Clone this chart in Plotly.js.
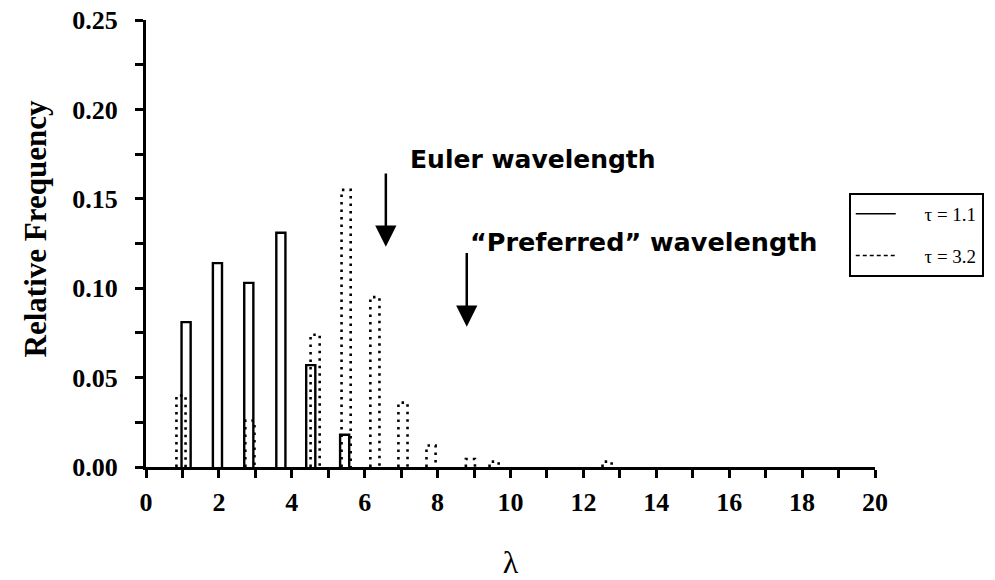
<!DOCTYPE html>
<html>
<head>
<meta charset="utf-8">
<script src="https://cdn.plot.ly/plotly-3.0.1.min.js"></script>
<style>html,body{margin:0;padding:0;background:#fff}#chart{width:995px;height:580px}</style>
</head>
<body>
<div id="chart"></div>
<script>
// Data
const lambdaTau11 = [1.10, 1.96, 2.82, 3.70, 4.52, 5.45];
const freqTau11   = [0.081, 0.114, 0.103, 0.131, 0.057, 0.018];
const lambdaTau32 = [0.96, 2.85, 4.64, 5.49, 6.28, 7.05, 7.82, 8.90, 9.55, 12.65];
const freqTau32   = [0.040, 0.026, 0.074, 0.155, 0.095, 0.036, 0.012, 0.0045, 0.003, 0.003];
const seriesNames = ['\u03c4 = 1.1', '\u03c4 = 3.2'];
const xTickVals = [0, 2, 4, 6, 8, 10, 12, 14, 16, 18, 20];
const yTickVals = [0, 0.05, 0.10, 0.15, 0.20, 0.25];

const BAR_W = 0.25;
function outline(centers, values) {
  const xs = [], ys = [];
  centers.forEach((c, i) => {
    const a = c - BAR_W / 2, b = c + BAR_W / 2;
    xs.push(a, a, b, b, null);
    ys.push(0, values[i], values[i], 0, null);
  });
  return {x: xs, y: ys};
}
const o1 = outline(lambdaTau11, freqTau11);
const o2 = outline(lambdaTau32, freqTau32);
const pad = '\u00a0\u00a0\u00a0\u00a0\u00a0';

const traces = [
  {type: 'scatter', mode: 'lines', x: o1.x, y: o1.y, showlegend: false,
   line: {color: '#000', width: 2.4}, connectgaps: false, hoverinfo: 'skip'},
  {type: 'scatter', mode: 'lines', x: o2.x, y: o2.y, showlegend: false,
   line: {color: '#000', width: 2.6, dash: '2.5px,5px'}, connectgaps: false, hoverinfo: 'skip'},
  {type: 'scatter', mode: 'lines', x: [null], y: [null], name: pad + seriesNames[0], legendgroup: 'a',
   line: {color: '#000', width: 1.5}},
  {type: 'scatter', mode: 'lines', x: [null], y: [null], name: pad + seriesNames[1], legendgroup: 'b',
   line: {color: '#000', width: 1.5, dash: '4px,3px'}}
];

const tickFont = {family: 'Liberation Serif', size: 26, weight: 'bold', color: '#000'};
const layout = {
  width: 995, height: 580,
  margin: {l: 146, r: 120, t: 20, b: 113, autoexpand: false},
  paper_bgcolor: '#fff', plot_bgcolor: '#fff',
  showlegend: true,
  legend: {x: 0.964, y: 0.613, xanchor: 'left', yanchor: 'top',
    bgcolor: '#fff', bordercolor: '#000', borderwidth: 2,
    font: {family: 'Liberation Serif', size: 19, color: '#000'},
    traceorder: 'grouped', tracegroupgap: 14, itemwidth: 40},
  xaxis: {range: [0, 20], tickvals: xTickVals, ticktext: xTickVals.map(String),
    showline: true, linecolor: '#000', linewidth: 3, mirror: false,
    ticks: 'outside', ticklen: 8, tickwidth: 3, tickcolor: '#000',
    minor: {dtick: 1, tick0: 0, ticks: 'outside', ticklen: 8, tickwidth: 3, tickcolor: '#000', showgrid: false},
    showgrid: false, zeroline: false, tickfont: tickFont, ticklabelstandoff: 2,
    title: {text: '\u03bb', font: {family: 'Liberation Serif', size: 32, color: '#000'}, standoff: 36},
    automargin: false},
  yaxis: {range: [0, 0.25], tickvals: yTickVals, ticktext: yTickVals.map(v => v.toFixed(2)),
    showline: true, linecolor: '#000', linewidth: 3,
    ticks: 'outside', ticklen: 8, tickwidth: 3, tickcolor: '#000',
    minor: {dtick: 0.025, tick0: 0, ticks: 'outside', ticklen: 8, tickwidth: 3, tickcolor: '#000', showgrid: false},
    showgrid: false, zeroline: false, tickfont: tickFont, ticklabelstandoff: 12,
    automargin: false},
  annotations: [
    {x: -0.152, y: 0.532, xref: 'paper', yref: 'paper', xanchor: 'center', yanchor: 'middle',
     textangle: -90, showarrow: false, text: 'Relative Frequency',
     font: {family: 'Liberation Serif', size: 31, weight: 'bold', color: '#000'}},
    {x: 6.58, y: 0.1232, ax: 6.58, ay: 0.165, xref: 'x', yref: 'y', axref: 'x', ayref: 'y',
     showarrow: true, arrowhead: 2, arrowsize: 1.7, arrowwidth: 2.5, arrowcolor: '#000', text: ''},
    {x: 8.80, y: 0.0785, ax: 8.80, ay: 0.1205, xref: 'x', yref: 'y', axref: 'x', ayref: 'y',
     showarrow: true, arrowhead: 2, arrowsize: 1.7, arrowwidth: 2.5, arrowcolor: '#000', text: ''},
    {x: 7.19, y: 0.172, xref: 'x', yref: 'y', xanchor: 'left', yanchor: 'middle', showarrow: false,
     text: 'Euler wavelength', font: {family: 'DejaVu Sans', size: 25, weight: 'bold', color: '#000'}},
    {x: 8.83, y: 0.126, xref: 'x', yref: 'y', xanchor: 'left', yanchor: 'middle', showarrow: false,
     text: '\u201cPreferred\u201d wavelength', font: {family: 'DejaVu Sans', size: 25.5, weight: 'bold', color: '#000'}}
  ]
};

Plotly.newPlot('chart', traces, layout, {staticPlot: true, displayModeBar: false});
</script>
</body>
</html>
